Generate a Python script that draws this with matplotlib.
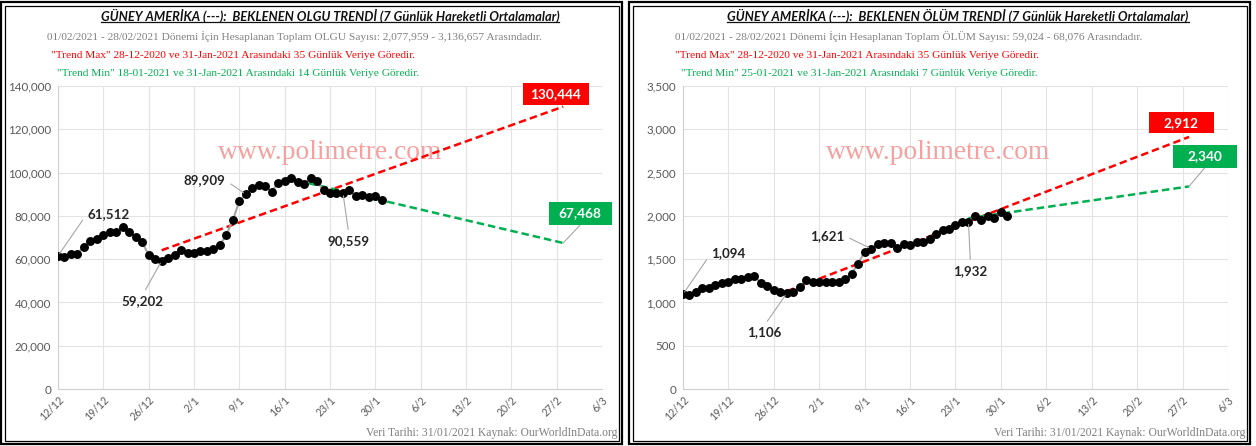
import matplotlib
matplotlib.use("Agg")
import matplotlib.pyplot as plt
import matplotlib.dates as mdates
from matplotlib.patches import Rectangle
from matplotlib.lines import Line2D
from matplotlib.ticker import MultipleLocator, StrMethodFormatter
import pandas as pd

plt.rcParams["font.family"] = ["Lato", "DejaVu Sans"]

# ---- data (7-day moving averages) ----
dates = pd.date_range("2020-12-12", "2021-01-31", freq="D")

case_values = [61512, 61050, 62600, 62600, 65700, 68400, 69200, 71050, 72700, 72700,
               74900, 72600, 70300, 67700, 62000, 60000, 59202, 60400, 62000, 64100,
               63050, 63050, 63800, 63800, 64600, 66600, 71200, 78000, 86900, 89909,
               93000, 94100, 93800, 91050, 95350, 96100, 97700, 95800, 94900, 97700,
               96100, 91800, 90700, 90400, 90559, 91800, 89000, 89500, 88800, 89200,
               87200]

death_values = [1094, 1085, 1126, 1161, 1161, 1200, 1230, 1238, 1276, 1276,
                1296, 1304, 1223, 1184, 1142, 1123, 1106, 1123, 1180, 1258,
                1238, 1238, 1238, 1238, 1238, 1269, 1334, 1449, 1588, 1621,
                1673, 1688, 1688, 1634, 1673, 1661, 1700, 1700, 1738, 1788,
                1835, 1846, 1892, 1934, 1932, 2000, 1954, 2000, 1981, 2046,
                2000]

# trend lines: (start date, end date) and (start value, end value)
case_max_dates = ["2020-12-28", "2021-02-28"]
case_max_vals = [64100, 130444]
case_min_dates = ["2021-01-18", "2021-02-28"]
case_min_vals = [96300, 67468]

death_max_dates = ["2020-12-28", "2021-02-28"]
death_max_vals = [1130, 2912]
death_min_dates = ["2021-01-25", "2021-02-28"]
death_min_vals = [1972, 2340]

tick_dates = pd.date_range("2020-12-12", "2021-03-06", freq="7D")
tick_labels = ["12/12", "19/12", "26/12", "2/1", "9/1", "16/1", "23/1",
               "30/1", "6/2", "13/2", "20/2", "27/2", "6/3"]

# labelled points: (index, text offset in pixels, alignment)
case_labels = [(0, (29, 42), "left"), (16, (-19, -40), "center"),
               (29, (-41, 14), "center"), (44, (6, -48), "center")]
death_labels = [(0, (28, 41), "left"), (16, (-23, -39), "center"),
                (29, (-44, 13), "center"), (44, (2, -49), "center")]

titles = ["GÜNEY AMERİKA (---):  BEKLENEN OLGU TRENDİ (7 Günlük Hareketli Ortalamalar)",
          "GÜNEY AMERİKA (---):  BEKLENEN ÖLÜM TRENDİ (7 Günlük Hareketli Ortalamalar)"]
gray_lines = ["01/02/2021 - 28/02/2021 Dönemi İçin Hesaplanan Toplam OLGU Sayısı: 2,077,959 - 3,136,657 Arasındadır.",
              "01/02/2021 - 28/02/2021 Dönemi İçin Hesaplanan Toplam ÖLÜM Sayısı: 59,024 - 68,076 Arasındadır."]
red_lines = ['"Trend Max" 28-12-2020 ve 31-Jan-2021 Arasındaki 35 Günlük Veriye Göredir.',
             '"Trend Max" 28-12-2020 ve 31-Jan-2021 Arasındaki 35 Günlük Veriye Göredir.']
green_lines = ['"Trend Min" 18-01-2021 ve 31-Jan-2021 Arasındaki 14 Günlük Veriye Göredir.',
               '"Trend Min" 25-01-2021 ve 31-Jan-2021 Arasındaki 7 Günlük Veriye Göredir.']
footer = "Veri Tarihi: 31/01/2021 Kaynak: OurWorldInData.org"

RED = "#ff0000"
GREEN = "#00b050"
GRAY = "#808080"
SERIF = ["Liberation Serif", "DejaVu Serif"]

W, H = 1256, 446
fig = plt.figure(figsize=(W / 100, H / 100), dpi=100)
inv = fig.transFigure.inverted()


def px(x, y):
    return x / W, 1 - y / H


def value_box(ax, date, val, color, dx, dy, w, h, leader=False):
    # fixed-size label box next to a trend line end point
    x, y = ax.transData.transform((mdates.date2num(pd.to_datetime(date)), val))
    cx, cy = x + dx, y + dy
    (fx, fy), = inv.transform([(cx - w / 2, cy - h / 2)])
    fig.add_artist(Rectangle((fx, fy), w / W, h / H, transform=fig.transFigure,
                             fc=color, ec="none", zorder=7))
    (tx, ty), = inv.transform([(cx, cy)])
    fig.text(tx, ty, f"{val:,}", ha="center", va="center", fontsize=9.8,
             fontweight="bold", color="white", zorder=8)
    if leader:
        (ax0, ay0), (ax1, ay1) = inv.transform([(x, y), (cx, cy - h / 2)])
        fig.add_artist(Line2D([ax0, ax1], [ay0, ay1], transform=fig.transFigure,
                              color="#a6a6a6", lw=0.8, zorder=6))


def draw_panel(x0, ax_left, ax_right, values, ymax, ystep, labels,
               max_d, max_v, min_d, min_v, idx, wm_x, boxes):
    # panel frame (double line)
    for off, lw in [(0, 1.6), (3.5, 0.9)]:
        fx, fy = px(x0 + 1 + off, 444 - off)
        fw = (621 - 2 * off) / W
        fh = (442 - 2 * off) / H
        fig.add_artist(Rectangle((fx, fy), fw, fh, transform=fig.transFigure,
                                 fill=False, ec="black", lw=lw))

    l, b = px(ax_left, 389)
    ax = fig.add_axes([l, b, (ax_right - ax_left) / W, 303 / H])
    ax.set_xlim(tick_dates[0], tick_dates[-1])
    ax.set_ylim(0, ymax)
    ax.set_xticks(tick_dates)
    ax.set_xticklabels(tick_labels, rotation=45, ha="right", va="top",
                       rotation_mode="anchor", color="#595959", fontsize=7.6)
    ax.yaxis.set_major_locator(MultipleLocator(ystep))
    ax.yaxis.set_major_formatter(StrMethodFormatter("{x:,.0f}"))
    ax.tick_params(axis="y", labelsize=8.4, labelcolor="#595959", length=0, pad=5)
    ax.tick_params(axis="x", length=0, pad=4)
    ax.grid(color="#e3e3e3", lw=0.8)
    ax.set_axisbelow(True)
    for s in ["top", "right"]:
        ax.spines[s].set_visible(False)
    ax.spines["left"].set_color("#d0d0d0")
    ax.spines["bottom"].set_color("#d0d0d0")

    ax.text(wm_x, 0.782, "www.polimetre.com", transform=ax.transAxes,
            ha="center", va="center", fontsize=19.8, color="#f6a0a0",
            family=SERIF, zorder=1)

    ax.plot(dates, values, color="#a6a6a6", lw=1.5, marker="o", ms=5.4,
            mfc="black", mec="black", zorder=4)
    ax.plot(pd.to_datetime(max_d), max_v, color=RED, lw=1.8,
            dashes=(3, 1.6), zorder=3)
    ax.plot(pd.to_datetime(min_d), min_v, color=GREEN, lw=1.8,
            dashes=(3, 1.6), zorder=3)

    for i, (dx, dy), ha in labels:
        rel = (0, 0.5) if ha == "left" else (0.5, 1) if dy < 0 else (1, 0.5)
        ax.annotate(f"{values[i]:,}", xy=(dates[i], values[i]), xytext=(dx, dy),
                    textcoords="offset pixels", ha=ha, va="center",
                    fontsize=9.6, fontweight="bold", color="#262626",
                    arrowprops=dict(arrowstyle="-", color="#a6a6a6", lw=0.8,
                                    shrinkA=2, shrinkB=2, relpos=rel),
                    zorder=6)

    (rdx, rdy, rw, rh), (gdx, gdy, gw, gh) = boxes
    value_box(ax, max_d[1], max_v[1], RED, rdx, rdy, rw, rh)
    value_box(ax, min_d[1], min_v[1], GREEN, gdx, gdy, gw, gh, leader=True)

    # header texts
    t = fig.text(*px(x0 + 330, 16), titles[idx], ha="center", va="center",
                 fontsize=9.3, fontweight="bold", fontstyle="italic",
                 color="#111111")
    fig.text(*px(x0 + 47, 37), gray_lines[idx], ha="left", va="center",
             fontsize=8.2, color=GRAY, family=SERIF)
    fig.text(*px(x0 + 51 - (4 if idx else 0), 55),
             red_lines[idx], ha="left", va="center", fontsize=8.2,
             color=RED, family=SERIF)
    fig.text(*px(x0 + 57 - (4 if idx else 0), 73), green_lines[idx],
             ha="left", va="center", fontsize=8.2, color=GREEN, family=SERIF)
    fig.text(*px(x0 + 617, 433), footer, ha="right", va="center",
             fontsize=8.4, color=GRAY, family=SERIF)
    return t


titles_art = []
titles_art.append(draw_panel(0, 58, 602, case_values, 140000, 20000, case_labels,
                             case_max_dates, case_max_vals, case_min_dates,
                             case_min_vals, 0, 0.5,
                             [(-7.5, 13, 66, 22), (17, 29.5, 63, 23)]))
titles_art.append(draw_panel(628, 683, 1228, death_values, 3500, 500, death_labels,
                             death_max_dates, death_max_vals, death_min_dates,
                             death_min_vals, 1, 0.468,
                             [(-8, 14, 65, 21), (15.5, 30, 64, 23)]))

# underline the titles
fig.canvas.draw()
r = fig.canvas.get_renderer()
for t in titles_art:
    bb = t.get_window_extent(r).transformed(fig.transFigure.inverted())
    fig.add_artist(Line2D([bb.x0, bb.x1], [bb.y0 + 0.002, bb.y0 + 0.002],
                          transform=fig.transFigure, color="#111111", lw=0.9))

fig.savefig("out.png", dpi=100)
